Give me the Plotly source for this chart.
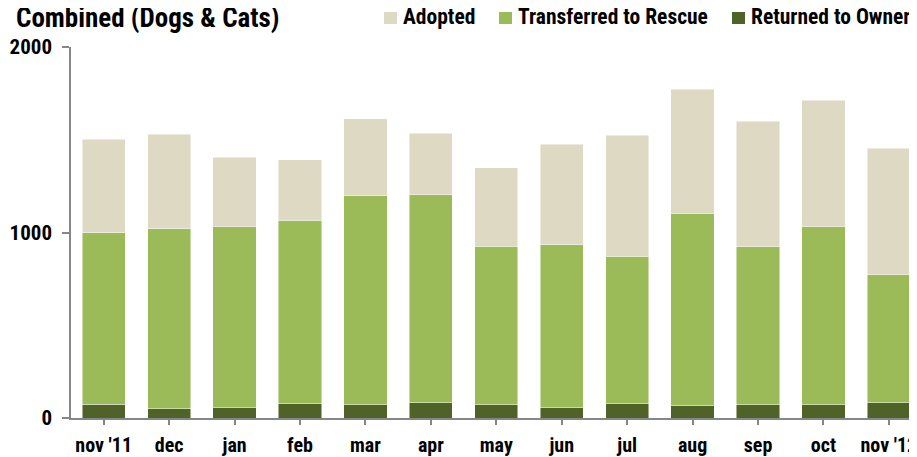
import plotly.graph_objects as go

months = ["nov '11", "dec", "jan", "feb", "mar", "apr", "may", "jun", "jul", "aug", "sep", "oct", "nov '12"]
returned = [75, 50, 56, 77, 72, 82, 72, 56, 79, 70, 72, 72, 82]
transferred = [924, 971, 975, 990, 1126, 1122, 855, 877, 794, 1035, 850, 958, 689]
adopted = [505, 510, 376, 324, 414, 331, 421, 542, 651, 667, 679, 684, 684]

series_names = ["Adopted", "Transferred to Rescue", "Returned to Owner"]
series_colors = ["#ddd9c3", "#9bbb59", "#4f6228"]

FONT = "Roboto Condensed, Open Sans Condensed, sans-serif"
# page has an 8px body margin: figure is placed at (8, 8)
OFF = 8
W, H = 909, 449
L, R, T, B = 63, 0, 39, 39
pw, ph = W - L - R, H - T - B


def px(x):  # page pixel x -> paper x
    return (x - OFF - L) / pw


def py(y):  # page pixel y -> paper y
    return (H - B - (y - OFF)) / ph


fig = go.Figure()
edge = dict(color="rgba(255,255,255,0.6)", width=0.8)
for vals, name, col in [(returned, series_names[2], series_colors[2]),
                        (transferred, series_names[1], series_colors[1]),
                        (adopted, series_names[0], series_colors[0])]:
    fig.add_trace(go.Bar(x=months, y=vals, name=name,
                         marker=dict(color=col, line=edge)))

fig.update_layout(
    width=W, height=H,
    margin=dict(l=L, r=R, t=T, b=B, pad=0, autoexpand=False),
    barmode="stack", bargap=0.34,
    plot_bgcolor="white", paper_bgcolor="white",
    font=dict(family=FONT, size=21, color="black", weight="bold"),
    showlegend=False,
    xaxis=dict(range=[-0.5, 12.43], showline=True, linecolor="#868686", linewidth=1.5,
               ticks="outside", ticklen=5, tickcolor="#868686", tickwidth=1.5,
               tickfont=dict(family=FONT, size=20, color="black", weight="bold"),
               showgrid=False, ticklabelstandoff=3),
    yaxis=dict(range=[0, 2000], tickvals=[0, 1000, 2000], showline=True,
               linecolor="#868686", linewidth=1.5, ticks="outside", ticklen=7,
               tickcolor="#868686", tickwidth=1.5, showgrid=False, zeroline=False,
               tickfont=dict(family=FONT, size=21, color="black", weight="bold"),
               ticklabelstandoff=6),
)

# legend (drawn manually to match placement)
leg_sq = [384, 499, 732]
leg_tx = [402, 517, 750]
for name, col, sx, tx in zip(series_names, series_colors, leg_sq, leg_tx):
    fig.add_shape(type="rect", xref="paper", yref="paper",
                  x0=px(sx), x1=px(sx + 13), y0=py(24), y1=py(12),
                  fillcolor=col, line=dict(width=0))
    fig.add_annotation(text=name, xref="paper", yref="paper",
                       x=px(tx), y=py(17), xanchor="left", yanchor="middle",
                       showarrow=False, borderpad=0,
                       font=dict(family=FONT, size=21.5, color="black", weight="bold"))

fig.add_annotation(text="Combined (Dogs & Cats)", xref="paper", yref="paper",
                   x=px(15), y=py(18), xanchor="left", yanchor="middle",
                   showarrow=False, borderpad=0,
                   font=dict(family=FONT, size=27, color="black", weight="bold"))
fig.write_html("out.html")
